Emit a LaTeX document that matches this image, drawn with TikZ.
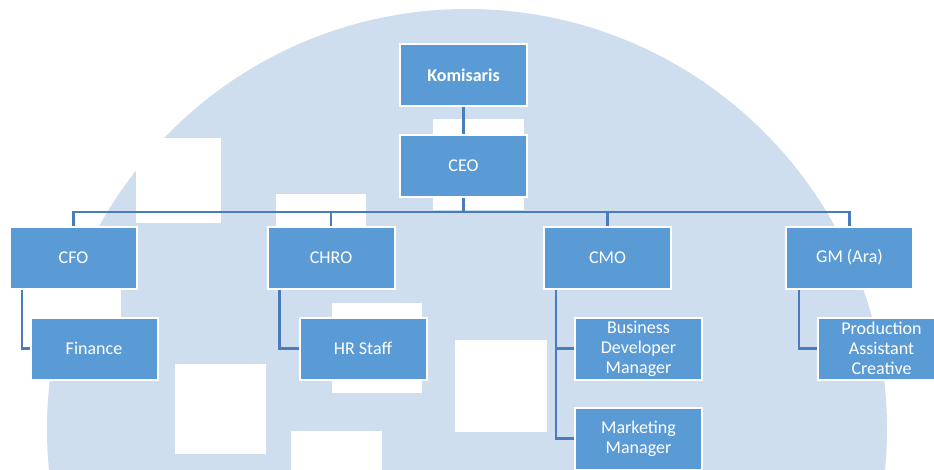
\documentclass[tikz,border=0pt]{standalone}
\usepackage{fontspec}
\setmainfont{Carlito}
\pgfdeclarelayer{back}
\pgfdeclarelayer{mid}
\pgfsetlayers{back,mid,main}
\definecolor{boxfill}{RGB}{91,155,213}
\definecolor{linecol}{RGB}{72,124,188}
\definecolor{circfill}{RGB}{206,222,238}
\tikzset{
  orgbox/.style={draw=white, line width=2pt, fill=boxfill, text=white,
    minimum width=127pt, minimum height=62pt, inner sep=1pt,
    align=center, font=\fontsize{18pt}{20pt}\selectfont},
  conn/.style={draw=linecol, line width=2.6pt},
  blank/.style={fill=white}
}
\begin{document}
\begin{tikzpicture}[x=1pt,y=-1pt]
\useasboundingbox (0,0) rectangle (934,469);
\clip (0,0) rectangle (934,469);

% nodes
\node[orgbox, font=\fontsize{18pt}{20pt}\selectfont\bfseries] (kom) at (463.5,75) {Komisaris};
\node[orgbox] (ceo) at (463.5,166) {CEO};
\node[orgbox] (cfo) at (73.5,257.5) {CFO};
\node[orgbox] (chro) at (331,257.5) {CHRO};
\node[orgbox] (cmo) at (607.5,257.5) {CMO};
\node[orgbox] (gm) at (849.5,257.5) {GM (Ara)};
\node[orgbox] (fin) at (94,348.5) {Finance};
\node[orgbox] (hr) at (363,348.5) {HR Staff};
\node[orgbox] (bdm) at (638.5,348.5) {Business\\Developer\\Manager};
\node[orgbox] (mkt) at (638.5,438.5) {Marketing\\Manager};
\node[orgbox] (pac) at (881.5,348.5) {Production\\Assistant\\Creative};
\coordinate (bus) at (0,212);

% background
\begin{pgfonlayer}{back}
  \fill[circfill] (467,429) circle (420);
  \fill[blank] (433,119) rectangle (524,210);
  \fill[blank] (136,138) rectangle (221,223);
  \fill[blank] (276,194) rectangle (366,284);
  \fill[blank] (31,262) rectangle (121,352);
  \fill[blank] (332,303) rectangle (422,393);
  \fill[blank] (455,340) rectangle (547,432);
  \fill[blank] (175,364) rectangle (266,454);
  \fill[blank] (291,431) rectangle (382,521);
\end{pgfonlayer}

% connectors
\begin{pgfonlayer}{mid}
  \draw[conn] (kom.south) -- (ceo.north);
  \draw[conn] (ceo.south) -- (ceo.south |- bus);
  \draw[conn] (cfo.north) |- (bus -| ceo.south);
  \draw[conn] (chro.north) |- (bus -| ceo.south);
  \draw[conn] (cmo.north) |- (bus -| ceo.south);
  \draw[conn] (gm.north) |- (bus -| ceo.south);
  \draw[conn] ([xshift=13pt]cfo.south west) |- (fin.west);
  \draw[conn] ([xshift=13pt]chro.south west) |- (hr.west);
  \draw[conn] ([xshift=13pt]cmo.south west) |- (bdm.west);
  \draw[conn] ([xshift=13pt]cmo.south west) |- (mkt.west);
  \draw[conn] ([xshift=14pt]gm.south west) |- (pac.west);
\end{pgfonlayer}
\end{tikzpicture}
\end{document}
